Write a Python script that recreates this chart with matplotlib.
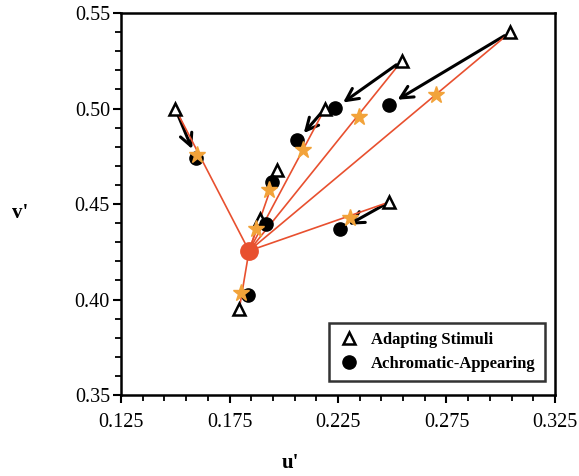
import matplotlib.pyplot as plt
import numpy as np
from matplotlib.ticker import MultipleLocator, FixedLocator

plt.rcParams["font.family"] = ["Liberation Serif", "DejaVu Serif"]

# neutral (white) point
center_u, center_v = 0.184, 0.4255

# adapting stimuli (triangles)
adapt_u = [0.150, 0.1795, 0.197, 0.219, 0.2545, 0.3045, 0.2485, 0.189]
adapt_v = [0.500, 0.395, 0.468, 0.500, 0.525, 0.540, 0.451, 0.442]

# achromatic-appearing points (circles)
achrom_u = [0.1595, 0.1833, 0.1945, 0.2063, 0.2237, 0.2486, 0.226, 0.192]
achrom_v = [0.4741, 0.4022, 0.4614, 0.4833, 0.5002, 0.502, 0.4367, 0.4395]

# which shifts carry a visible arrow
has_arrow = [True, False, False, True, True, True, True, False]

# predicted points (stars) on the lines from the neutral point
pred_u = [0.1598, 0.1803, 0.1933, 0.2087, 0.2348, 0.270, 0.2305, 0.1872]
pred_v = [0.4759, 0.4036, 0.4572, 0.4785, 0.4958, 0.5072, 0.4428, 0.4367]

RED = "#e8502f"
ORANGE = "#f2a33a"

fig = plt.figure(figsize=(5.79, 4.76), dpi=100)
ax = fig.add_axes([0.209, 0.170, 0.7495, 0.8027])

# shift arrows: adapting stimulus -> achromatic point
for ua, va, uc, vc, show in zip(adapt_u, adapt_v, achrom_u, achrom_v, has_arrow):
    if not show:
        continue
    ax.annotate("", xy=(uc, vc), xytext=(ua, va),
                arrowprops=dict(arrowstyle="->", color="black", lw=2.2,
                                mutation_scale=22, shrinkA=5, shrinkB=7),
                zorder=2)

# red lines from neutral point to each adapting stimulus
for ua, va in zip(adapt_u, adapt_v):
    ax.plot([center_u, ua], [center_v, va], color=RED, lw=1.2, zorder=3)

ax.plot(adapt_u, adapt_v, linestyle="none", marker="^", ms=9, mfc="white",
        mec="black", mew=1.8, zorder=4, label="Adapting Stimuli")
ax.plot(achrom_u, achrom_v, linestyle="none", marker="o", ms=9.5,
        color="black", zorder=5, label="Achromatic-Appearing")
ax.plot(pred_u, pred_v, linestyle="none", marker="*", ms=12.5, color=ORANGE,
        zorder=6)
ax.plot([center_u], [center_v], linestyle="none", marker="o", ms=12.5,
        color=RED, zorder=7)

ax.set_xlim(0.125, 0.325)
ax.set_ylim(0.35, 0.55)
ax.xaxis.set_major_locator(FixedLocator([0.125, 0.175, 0.225, 0.275, 0.325]))
ax.xaxis.set_minor_locator(FixedLocator(np.arange(0.135, 0.325, 0.01)))
ax.yaxis.set_major_locator(MultipleLocator(0.05))
ax.yaxis.set_minor_locator(MultipleLocator(0.01))
ax.set_xticklabels(["0.125", "0.175", "0.225", "0.275", "0.325"])
ax.set_yticks([0.35, 0.40, 0.45, 0.50, 0.55])
ax.set_yticklabels(["0.35", "0.40", "0.45", "0.50", "0.55"])
ax.tick_params(axis="both", which="major", direction="out", length=6,
               width=1.5, labelsize=14.5, top=False, right=False)
ax.tick_params(axis="both", which="minor", direction="out", length=4,
               width=1.3, top=False, right=False)
ax.tick_params(axis="x", which="major", pad=7)
ax.tick_params(axis="y", which="major", pad=2)
for sp in ax.spines.values():
    sp.set_linewidth(1.8)

fig.text(20 / 579, 1 - 213 / 476, "v'", fontsize=15, ha="center",
         va="center", fontweight="bold")
fig.text(290 / 579, 1 - 463 / 476, "u'", fontsize=15, ha="center",
         va="center", fontweight="bold")

leg = ax.legend(loc="lower right", bbox_to_anchor=(0.977, 0.037),
                borderaxespad=0, frameon=True, fancybox=False, borderpad=0.55,
                handletextpad=0.7, handlelength=1.3, labelspacing=0.45,
                prop={"weight": "bold", "size": 12})
leg.get_frame().set_edgecolor("black")
leg.get_frame().set_linewidth(1.8)

fig.savefig("out.png", dpi=100)
